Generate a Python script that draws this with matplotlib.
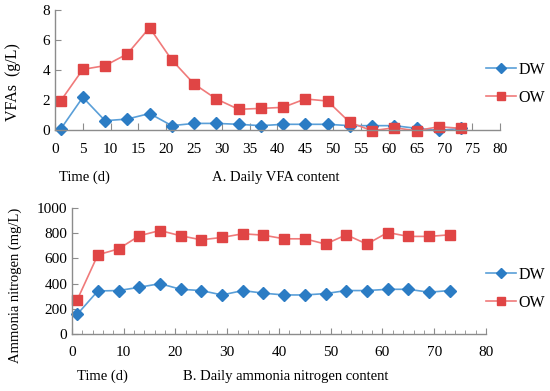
import matplotlib.pyplot as plt
from matplotlib.ticker import MultipleLocator

plt.rcParams["font.family"] = ["Liberation Serif", "DejaVu Serif"]
plt.rcParams["font.size"] = 10.5

days = [1, 5, 9, 13, 17, 21, 25, 29, 33, 37, 41, 45, 49, 53, 57, 61, 65, 69, 73]

vfa_dw = [0.05, 2.18, 0.62, 0.73, 1.1, 0.29, 0.44, 0.44, 0.38, 0.29, 0.38,
          0.38, 0.38, 0.29, 0.29, 0.29, 0.11, -0.03, 0.11]
vfa_ow = [1.93, 4.04, 4.29, 5.07, 6.82, 4.67, 3.07, 2.07, 1.38, 1.44, 1.51,
          2.07, 1.93, 0.51, -0.05, 0.15, -0.05, 0.22, 0.11]

nh3_dw = [156, 342, 345, 371, 400, 355, 345, 310, 345, 324, 310,
          310, 321, 345, 345, 355, 355, 332, 345]
nh3_ow = [270, 629, 676, 780, 822, 780, 748, 767, 796, 785, 756,
          756, 714, 788, 714, 806, 775, 775, 788]

BLUE_LINE = "#5a9fd8"
BLUE_MARK = "#2b7cc4"
RED_LINE = "#f07a7a"
RED_MARK = "#e04545"
AXIS = "#8c8c8c"


def style_axes(ax):
    for side in ("top", "right"):
        ax.spines[side].set_visible(False)
    for side in ("left", "bottom"):
        ax.spines[side].set_color(AXIS)
        ax.spines[side].set_linewidth(1.0)
    ax.tick_params(which="both", direction="in", color=AXIS, labelsize=11)
    ax.tick_params(axis="x", pad=9)


def draw_series(ax, dw, ow):
    ax.plot(days, dw, color=BLUE_LINE, lw=1.2, marker="D", ms=6,
            mfc=BLUE_MARK, mec=BLUE_MARK, label="DW", clip_on=False)
    ax.plot(days, ow, color=RED_LINE, lw=1.2, marker="s", ms=7,
            mfc=RED_MARK, mec=RED_MARK, label="OW", clip_on=False)


def add_legend(fig, ax, y):
    handles, labels = ax.get_legend_handles_labels()
    fig.legend(handles, labels, loc="center right", bbox_to_anchor=(1.0, y),
               frameon=False, handlelength=1.9, handletextpad=0.15,
               labelspacing=0.75, fontsize=11.5, markerscale=0.85,
               borderaxespad=0.1, borderpad=0.2)


fig = plt.figure(figsize=(5.5, 3.91), dpi=100)

# A. VFA
ax1 = fig.add_axes([0.1, 0.6675, 0.809, 0.307])
draw_series(ax1, vfa_dw, vfa_ow)
ax1.set_xlim(0, 80)
ax1.set_ylim(0, 8)
ax1.xaxis.set_major_locator(MultipleLocator(5))
ax1.yaxis.set_major_locator(MultipleLocator(2))
style_axes(ax1)
ax1.tick_params(axis="x", length=5)
ax1.tick_params(axis="y", length=4)
add_legend(fig, ax1, 0.785)
fig.text(0.107, 0.547, "Time (d)", ha="left", va="center")
fig.text(0.502, 0.547, "A. Daily VFA content", ha="center", va="center")
fig.text(0.024, 0.79, "VFAs  (g/L)", rotation=90, ha="center", va="center",
         fontsize=11.5)

# B. Ammonia nitrogen
ax2 = fig.add_axes([0.1309, 0.1458, 0.7527, 0.322])
draw_series(ax2, nh3_dw, nh3_ow)
ax2.set_xlim(0, 80)
ax2.set_ylim(0, 1000)
ax2.xaxis.set_major_locator(MultipleLocator(10))
ax2.xaxis.set_minor_locator(MultipleLocator(2))
ax2.yaxis.set_major_locator(MultipleLocator(200))
style_axes(ax2)
ax2.tick_params(axis="x", which="major", length=4)
ax2.tick_params(axis="x", which="minor", length=3)
ax2.tick_params(axis="y", length=4)
add_legend(fig, ax2, 0.262)
fig.text(0.14, 0.038, "Time (d)", ha="left", va="center")
fig.text(0.52, 0.038, "B. Daily ammonia nitrogen content", ha="center", va="center")
fig.text(0.028, 0.27, "Ammonia nitrogen (mg/L)", rotation=90, ha="center", va="center")

fig.savefig("out.png", dpi=100)
